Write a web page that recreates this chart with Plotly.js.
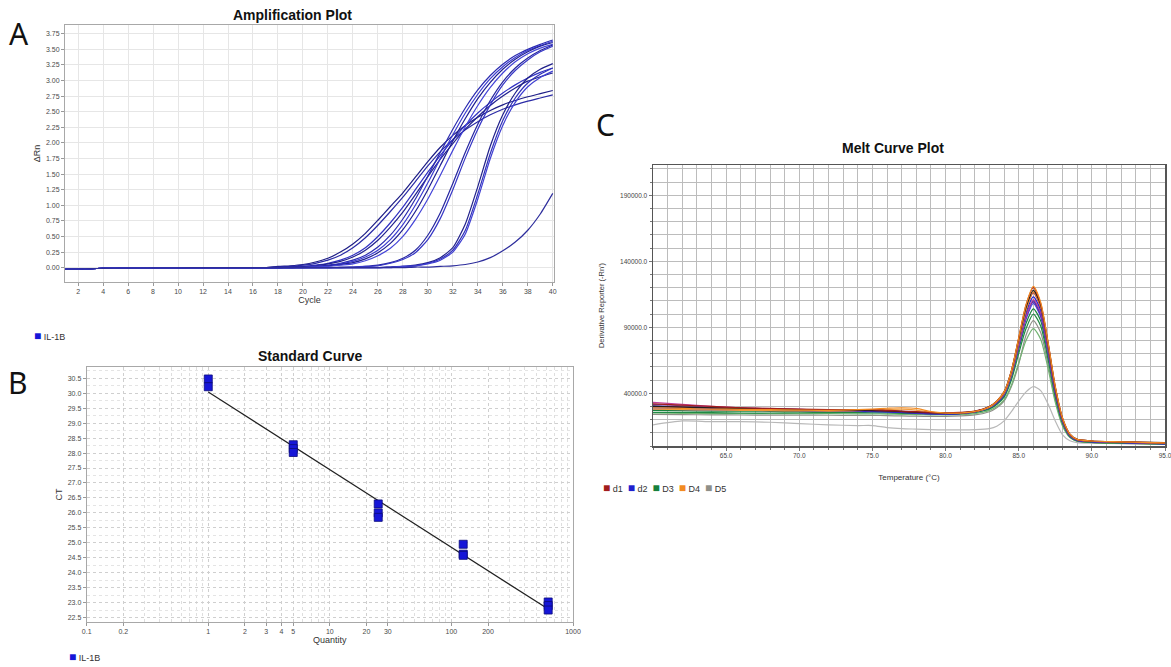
<!DOCTYPE html>
<html>
<head>
<meta charset="utf-8">
<script src="https://cdn.plot.ly/plotly-3.0.1.min.js"></script>
<style>
  html, body { margin: 0; padding: 0; background: #ffffff; }
  #chart { width: 1171px; height: 667px; }
</style>
</head>
<body>
<div id="chart"></div>
<script>
// ---------- A: amplification plot (ΔRn per cycle, IL-1B wells) ----------
const cycles = [1,2,3,4,6,8,10,12,14,16,17,18,19,20,21,22,23,24,25,26,27,28,29,30,31,32,33,34,35,36,37,38,39,40];
// flat baseline shared by all wells for cycles 1-17
const ampBaseline = [-0.025,-0.02,-0.016,-0.012,-0.008,-0.004,-0.002,0,0,0,0];
// values for cycles 18-40
const ampA1 = [0.02,0.03,0.05,0.09,0.15,0.25,0.38,0.55,0.76,0.98,1.2,1.45,1.7,1.93,2.12,2.28,2.41,2.52,2.61,2.68,2.74,2.79,2.84];
const ampA2 = [0.01,0.02,0.04,0.07,0.12,0.2,0.32,0.48,0.68,0.9,1.13,1.38,1.63,1.86,2.05,2.21,2.34,2.45,2.54,2.61,2.67,2.72,2.77];
const ampB1 = [0,0.01,0.02,0.04,0.07,0.12,0.2,0.32,0.5,0.72,0.97,1.25,1.53,1.8,2.05,2.28,2.48,2.65,2.8,2.93,3.04,3.13,3.2];
const ampB2 = [0,0.01,0.02,0.03,0.06,0.1,0.17,0.28,0.44,0.65,0.89,1.17,1.46,1.74,1.99,2.22,2.42,2.6,2.75,2.88,2.99,3.06,3.12];
const ampC1 = [0,0.01,0.01,0.02,0.04,0.07,0.12,0.2,0.33,0.52,0.78,1.1,1.47,1.85,2.22,2.56,2.85,3.08,3.26,3.4,3.5,3.58,3.65];
const ampC2 = [0,0,0.01,0.02,0.03,0.06,0.1,0.17,0.28,0.45,0.69,1.0,1.36,1.75,2.13,2.48,2.78,3.03,3.22,3.37,3.48,3.56,3.63];
const ampC3 = [0,0,0.01,0.01,0.03,0.05,0.08,0.14,0.24,0.39,0.61,0.9,1.25,1.64,2.03,2.39,2.71,2.97,3.18,3.34,3.46,3.55,3.61];
const ampC4 = [0,0,0,0.01,0.02,0.04,0.06,0.11,0.19,0.31,0.5,0.77,1.1,1.48,1.88,2.26,2.6,2.89,3.12,3.3,3.43,3.52,3.58];
const ampD1 = [0,0,0,0,0,0.01,0.01,0.02,0.04,0.08,0.15,0.28,0.52,0.88,1.35,1.85,2.3,2.68,2.98,3.2,3.36,3.48,3.57];
const ampD2 = [0,0,0,0,0,0,0.01,0.02,0.03,0.07,0.13,0.24,0.45,0.79,1.25,1.76,2.22,2.61,2.93,3.16,3.33,3.46,3.55];
const ampE1 = [0,0,0,0,0,0,0,0,0,0.01,0.02,0.04,0.08,0.16,0.32,0.7,1.3,1.95,2.45,2.8,3.04,3.18,3.27];
const ampE2 = [0,0,0,0,0,0,0,0,0,0.01,0.02,0.03,0.07,0.14,0.28,0.6,1.18,1.83,2.36,2.72,2.96,3.1,3.2];
const ampE3 = [0,0,0,0,0,0,0,0,0,0,0.02,0.03,0.06,0.12,0.25,0.54,1.1,1.75,2.28,2.65,2.9,3.05,3.15];
const ampF  = [0,0,0,0,0,0,0,0,0,0,0,0.01,0.01,0.02,0.03,0.05,0.09,0.16,0.27,0.41,0.6,0.86,1.19];
const ampWells = [ampA1, ampA2, ampB1, ampB2, ampC1, ampC2, ampC3, ampC4, ampD1, ampD2, ampE1, ampE2, ampE3, ampF];
const ampColors = ['#1d1d86','#2a2aa6','#3131c2','#22228f','#2b2bb0','#3a3ad0','#1f1f92','#4444d8','#2626a0','#3636c6','#20208a','#3030b8','#4040d2','#2d2d9c'];
const targetName = 'IL-1B';
const targetColor = '#1616d8';

// ---------- B: standard curve ----------
const stdQuantity = [1,1,5,5,5,25,25,25,125,125,125,625,625,625];
const stdCt = [30.48,30.22,28.28,28.15,28.02,26.3,26.0,25.85,24.95,24.62,24.58,23.02,22.9,22.75];
const qtyTickVals = [0.1,0.2,1,2,3,4,5,10,20,30,100,200,1000];
const qtyTickText = ['0.1','0.2','1','2','3','4','5','10','20','30','100','200','1000'];

// ---------- C: melt curve (derivative reporter, thousands) ----------
const meltTemp = [60,62,64,66,68,70,72,74,75,76,77,78,79,80,81,82,83,83.5,84,84.5,85,85.5,86,86.5,87,87.5,88,88.5,89,90,92,95];
const meltD1a = [32,31,30,29,28.5,28,27.5,27.5,27.5,27,26.5,26,25.5,25.2,25.5,26.5,30,34,41,57,82,107,120,108,79,45,21,9,5,3.8,3.2,2.4];
const meltD1b = [30,29.5,29,28.5,28,27.5,27,27,27,26.5,26,25.5,25,24.8,25,26,29.5,33.5,40,55,79,103,116,105,76,43,20,8.5,4.8,3.6,3,2.2];
const meltD2a = [29,28.5,28,27.5,27,27,26.8,26.5,26.5,26,25.5,25,24.5,24.3,24.8,26,29.5,33,40,55,78,101,113,103,75,42,19.5,8,4.5,3.4,2.8,1.8];
const meltD2b = [30.5,29.5,28.5,28,27.5,27,26.5,26.5,26.3,26,25.5,24.8,24.3,24.2,24.6,25.8,29,32.5,39,54,76,98,110,100,73,41,19,8,4.4,3.3,2.7,1.7];
const meltD2c = [28,27.5,27.3,27,26.8,26.6,26.4,26.2,26,25.8,25.5,25,24.6,24.5,24.8,25.8,29,32.5,38.5,53,75,96,108,98,71,40,18.5,7.5,4.2,3.2,2.6,1.6];
const meltD3a = [27,26.8,26.5,26.5,26.3,26.3,26.2,26,26,25.8,25.6,25.2,24.8,24.6,24.8,25.6,28.5,32,38,52,73,93,104,95,69,39,18,7.5,4,3,2.4,1.6];
const meltD3b = [25.5,25.5,25.3,25,25,25.2,25.3,25.3,25.2,25,24.8,24.6,24.4,24.3,24.6,25.4,28,31.5,37,50,70,89,100,91,66,37,17,7,3.8,2.8,2.2,1.5];
const meltD3c = [25,24.8,24.6,24.5,24.5,24.5,24.5,24.4,24.3,24.2,24,23.8,23.6,23.6,23.9,24.6,27,30,35,46,63,80,89,81,59,33,15,6.5,3.6,2.7,2.1,1.4];
const meltD4a = [29,28.5,28,27.8,27.5,27.2,27,27.5,28,28.6,29,28.5,26,25,25,26.2,29.8,34,41,57,82,107,121,109,79,45,21,9,5,3.8,3.2,2.4];
const meltD4b = [28,27.6,27.3,27,26.8,26.6,26.5,26.8,27.3,27.8,28,27.2,25.5,24.8,25,26,29.4,33.5,40,55,79,103,117,106,77,44,20,8.5,4.8,3.6,3,2.2];
const meltD5a = [24,23.8,23.6,23.5,23.4,23.4,23.3,23.2,23.2,23,22.8,22.6,22.4,22.4,22.8,23.6,26,29,34,45,62,84,95,86,62,35,16,6.5,3.5,2.6,2,1.3];
const meltD5b = [16,19,18.5,18.5,18,17,16,15.5,15.5,14,13.2,12.8,12.4,12.2,12.2,12.4,13.2,15,19,26,34,41,45,42,32,19,8.5,4,2.6,2.2,1.8,1.2];
const meltNtcA = [30,29.5,29,28.5,28,27.6,27.3,27,26.8,26.6,26.2,25.6,25.2,25,25.2,26.3,30,34,41,57,81,105,118,107,78,44,20.5,8.8,5,3.8,3.2,2.5];
const meltNtcB = [31.5,30.5,29.5,28.8,28.2,27.7,27.2,26.8,26.6,26.3,26,25.4,24.9,24.7,25,26,29.5,33,40,55,77,99,109,99,72,41,19,8,4.5,3.4,2.8,1.8];
const meltNtcC = [33,31.5,30,29,28.3,27.8,27.2,26.8,26.5,26.2,25.8,25.2,24.8,24.6,25,26,29.4,33,39.5,54,76,98,111,101,73,41,19,8,4.5,3.4,2.8,2.6];
const meltGroups = ['d1','d2','D3','D4','D5'];
const meltGroupColors = ['#a11d1d','#1f1fcf','#17803d','#f28b22','#8f8f88'];
const meltCurves = [
  [meltD5b, '#b8b8b8'], [meltD5a, '#8f8f88'], [meltD3c, '#73b373'],
  [meltD3b, '#208a45'], [meltD3a, '#17803d'], [meltD2c, '#3c3ce0'],
  [meltNtcB, '#7b3fa8'], [meltD2b, '#2b2bb0'], [meltNtcC, '#c0409a'],
  [meltD2a, '#1f1fcf'], [meltD1b, '#b03030'], [meltD4b, '#f09a3a'],
  [meltNtcA, '#1e1e1e'], [meltD1a, '#a11d1d'], [meltD4a, '#f28b22']
];

// ---------- helpers ----------
const W = 1171, H = 667;
const px = v => v / W;
const py = v => 1 - v / H;
const tickFont = { family: 'Liberation Sans, Arial, sans-serif', size: 7, color: '#4a4a4a' };
const labelFont = { family: 'Liberation Sans, Arial, sans-serif', size: 9, color: '#333' };
const titleFont = { family: 'Liberation Sans, Arial, sans-serif', size: 14, color: '#111' };

const traces = [];

// A: amplification curves
ampWells.forEach((rise, i) => {
  traces.push({
    type: 'scatter', mode: 'lines', xaxis: 'x', yaxis: 'y',
    x: cycles, y: ampBaseline.concat(rise),
    line: { color: ampColors[i % ampColors.length], width: 1.2, shape: 'spline', smoothing: 0.6 },
    hoverinfo: 'skip', showlegend: false
  });
});

// B: least-squares fit of Ct against log10(quantity)
const lx = stdQuantity.map(q => Math.log10(q));
const n = lx.length;
const mx = lx.reduce((a, b) => a + b, 0) / n;
const my = stdCt.reduce((a, b) => a + b, 0) / n;
let sxy = 0, sxx = 0;
for (let i = 0; i < n; i++) { sxy += (lx[i] - mx) * (stdCt[i] - my); sxx += (lx[i] - mx) ** 2; }
const slope = sxy / sxx;
const intercept = my - slope * mx;
const qMin = Math.min(...stdQuantity), qMax = Math.max(...stdQuantity);
traces.push({
  type: 'scatter', mode: 'lines', xaxis: 'x2', yaxis: 'y2',
  x: [qMin, qMax],
  y: [intercept + slope * Math.log10(qMin), intercept + slope * Math.log10(qMax)],
  line: { color: '#202020', width: 1.2 }, hoverinfo: 'skip', showlegend: false
});
traces.push({
  type: 'scatter', mode: 'markers', xaxis: 'x2', yaxis: 'y2',
  x: stdQuantity, y: stdCt, name: targetName,
  marker: { symbol: 'square', size: 8, color: targetColor, line: { color: '#0b0b7a', width: 0.8 } },
  hoverinfo: 'x+y', showlegend: false
});

// C: melt curves
meltCurves.forEach(([vals, color]) => {
  traces.push({
    type: 'scatter', mode: 'lines', xaxis: 'x3', yaxis: 'y3',
    x: meltTemp, y: vals.map(v => v * 1000),
    line: { color: color, width: 1.2, shape: 'spline', smoothing: 0.7 },
    hoverinfo: 'skip', showlegend: false
  });
});

// minor grid positions for the log quantity axis
const logMinor = [];
for (let d = 0.1; d < 1000; d *= 10) {
  for (let k = 1; k < 10; k++) logMinor.push(+(d * k).toPrecision(3));
}

const boxLine = { showline: true, mirror: true, linecolor: '#a8a8a8', linewidth: 1 };

const layout = {
  width: W, height: H,
  margin: { l: 0, r: 0, t: 0, b: 0 },
  paper_bgcolor: '#ffffff', plot_bgcolor: '#ffffff',
  showlegend: false,
  font: { family: 'Liberation Sans, Arial, sans-serif' },

  xaxis: Object.assign({
    domain: [px(65), px(554)], range: [0.95, 40.1], anchor: 'y',
    tick0: 2, dtick: 2, ticks: 'outside', ticklen: 3, tickcolor: '#999',
    tickfont: tickFont, showgrid: true, gridcolor: '#e6e6e6', zeroline: false,
    title: { text: 'Cycle', font: labelFont, standoff: 2 }
  }, boxLine),
  yaxis: Object.assign({
    domain: [py(282), py(25)], range: [-0.23, 3.89], anchor: 'x',
    tick0: 0, dtick: 0.25, tickformat: '.2f', ticks: 'outside', ticklen: 3, tickcolor: '#999',
    tickfont: tickFont, showgrid: true, gridcolor: '#e6e6e6', zeroline: false,
    title: { text: 'ΔRn', font: labelFont, standoff: 3 }
  }, boxLine),

  xaxis2: Object.assign({
    type: 'log', domain: [px(86.7), px(573)], range: [-1, 3], anchor: 'y2',
    tickmode: 'array', tickvals: qtyTickVals, ticktext: qtyTickText,
    ticks: 'outside', ticklen: 3, tickcolor: '#999', tickfont: tickFont,
    showgrid: true, gridcolor: '#cfcfcf', griddash: 'dot', zeroline: false,
    minor: { tickmode: 'array', tickvals: logMinor, showgrid: true, gridcolor: '#dedede', griddash: 'dot', ticks: '' },
    title: { text: 'Quantity', font: labelFont, standoff: 2 }
  }, boxLine),
  yaxis2: Object.assign({
    domain: [py(622), py(367)], range: [22.35, 30.88], anchor: 'x2',
    tick0: 22.5, dtick: 0.5, tickformat: '.1f', ticks: 'outside', ticklen: 3, tickcolor: '#999',
    tickfont: tickFont, showgrid: true, gridcolor: '#cfcfcf', griddash: 'dot', zeroline: false,
    minor: { dtick: 0.25, showgrid: true, gridcolor: '#e4e4e4', griddash: 'dot', ticks: '' },
    title: { text: 'CT', font: labelFont, standoff: 3 }
  }, boxLine),

  xaxis3: {
    domain: [px(653), px(1165)], range: [60, 95], anchor: 'y3',
    tickmode: 'array', tickvals: [65,70,75,80,85,90,95], tickformat: '.1f',
    ticklabeloverflow: 'allow',
    ticks: 'outside', ticklen: 3, tickcolor: '#777',
    tickfont: { family: 'Liberation Sans, Arial, sans-serif', size: 6.5, color: '#444' },
    showgrid: true, gridcolor: '#bcbcbc', zeroline: false,
    minor: { tick0: 60, dtick: 1, showgrid: true, gridcolor: '#bcbcbc', ticks: 'outside', ticklen: 2, tickcolor: '#777' },
    showline: true, mirror: true, linecolor: '#555', linewidth: 1.5,
    title: { text: 'Temperature (°C)', font: { family: 'Liberation Sans, Arial, sans-serif', size: 8, color: '#333' }, standoff: 16 }
  },
  yaxis3: {
    domain: [py(446), py(165)], range: [0, 213000], anchor: 'x3',
    tickmode: 'array', tickvals: [40000, 90000, 140000, 190000], tickformat: '.1f',
    ticks: 'outside', ticklen: 3, tickcolor: '#777',
    tickfont: { family: 'Liberation Sans, Arial, sans-serif', size: 6.5, color: '#444' },
    showgrid: true, gridcolor: '#bcbcbc', zeroline: false,
    minor: { tick0: 0, dtick: 10000, showgrid: true, gridcolor: '#bcbcbc', ticks: 'outside', ticklen: 2, tickcolor: '#777' },
    showline: true, mirror: true, linecolor: '#555', linewidth: 1.5,
    title: { text: "Derivative Reporter (-Rn')", font: { family: 'Liberation Sans, Arial, sans-serif', size: 7.5, color: '#333' }, standoff: 14 }
  },

  annotations: []
};

function addText(text, x, y, font, opts) {
  layout.annotations.push(Object.assign({
    xref: 'paper', yref: 'paper', x: px(x), y: py(y),
    text: text, showarrow: false, font: font, xanchor: 'center', yanchor: 'middle'
  }, opts || {}));
}

// chart titles
const boldTitle = t => '<b>' + t + '</b>';
addText(boldTitle('Amplification Plot'), 292, 15, titleFont);
addText(boldTitle('Standard Curve'), 310, 356, titleFont);
addText(boldTitle('Melt Curve Plot'), 893, 148, titleFont);

// panel letters
const letterFont = { family: 'Noto Sans, Open Sans, sans-serif', size: 30, color: '#111' };
addText('A', 19, 33, letterFont);
addText('B', 18, 382, letterFont);
addText('C', 605, 125, letterFont);

// legends: colored square swatch followed by the series name
const swatch = (color, name) => '<span style="color:' + color + ';font-size:12px">■</span> ' + name;
const legendFont = { family: 'Liberation Sans, Arial, sans-serif', size: 9, color: '#333' };
addText(swatch(targetColor, targetName), 32, 336, legendFont, { xanchor: 'left' });
addText(swatch(targetColor, targetName), 67, 657, legendFont, { xanchor: 'left' });
addText(meltGroups.map((g, i) => swatch(meltGroupColors[i], g)).join('&nbsp;&nbsp;'),
        601, 488, legendFont, { xanchor: 'left' });

Plotly.newPlot('chart', traces, layout, { staticPlot: true, displayModeBar: false });
</script>
</body>
</html>
